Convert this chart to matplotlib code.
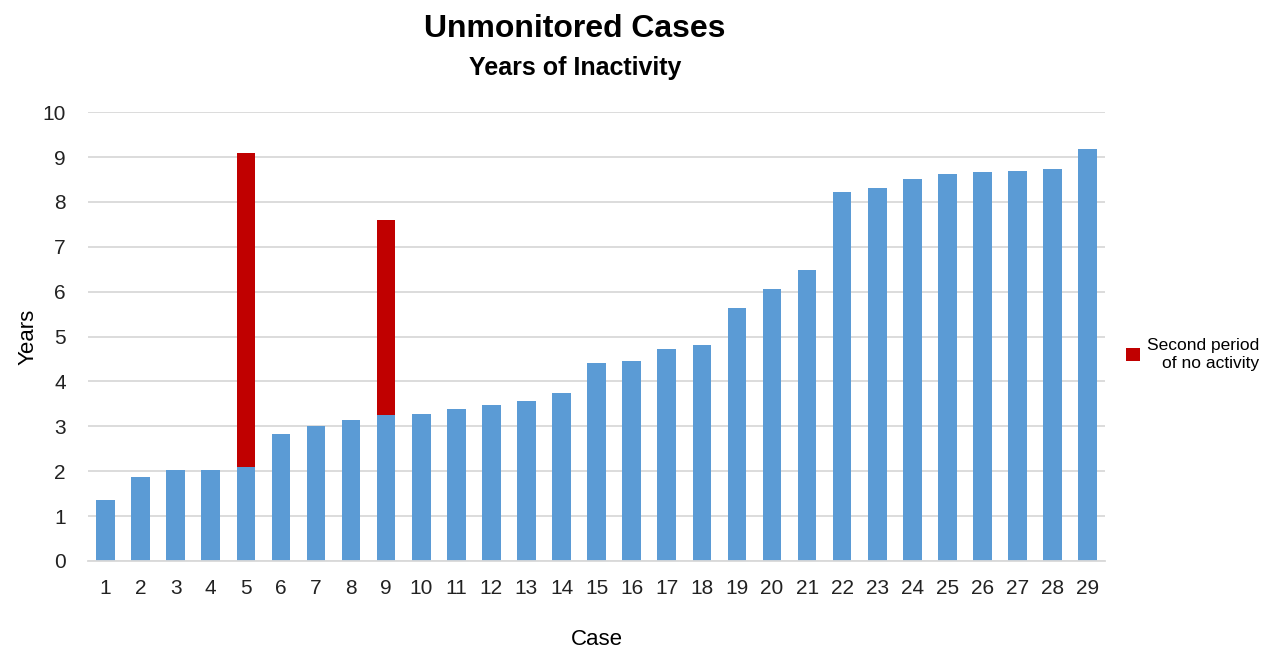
import numpy as np
import matplotlib.pyplot as plt

plt.rcParams['font.family'] = ['Liberation Sans', 'DejaVu Sans']

cases = list(range(1, 30))
first_period = [1.36, 1.88, 2.03, 2.03, 2.09, 2.83, 3.00, 3.13, 3.26, 3.28,
                3.38, 3.48, 3.57, 3.74, 4.41, 4.45, 4.72, 4.82, 5.63, 6.07,
                6.48, 8.22, 8.30, 8.50, 8.63, 8.66, 8.69, 8.73, 9.18]
# second period only on cases 5 and 9 (stacked on top)
second_period = [0, 0, 0, 0, 6.99, 0, 0, 0, 4.33, 0,
                 0, 0, 0, 0, 0, 0, 0, 0, 0, 0,
                 0, 0, 0, 0, 0, 0, 0, 0, 0]

blue = "#5B9BD5"
red = "#C00000"


def main():
    fig = plt.figure(figsize=(12.66, 6.52), dpi=100)
    ax = fig.add_axes([0.0695, 0.1396, 0.8035, 0.6884])

    x = np.array(cases)
    ax.bar(x, first_period, width=0.53, color=blue, zorder=2)
    second = ax.bar(x, second_period, width=0.53, bottom=first_period,
                    color=red, zorder=2, label="Second period\nof no activity")

    ax.set_xlim(0.5, 29.5)
    ax.set_ylim(0, 10)
    ax.set_yticks(range(0, 11))
    ax.set_xticks(x)
    ax.set_xticklabels([str(c) for c in cases])
    ax.tick_params(axis="both", length=0, labelsize=15, colors="#222222")
    ax.tick_params(axis="x", pad=13)
    ax.tick_params(axis="y", pad=16)

    ax.grid(axis="y", color="#D9D9D9", linewidth=1.3, zorder=0)
    for side in ["top", "right", "left"]:
        ax.spines[side].set_visible(False)
    ax.spines["bottom"].set_color("#D9D9D9")
    ax.spines["bottom"].set_linewidth(1.3)

    ax.set_xlabel("Case", fontsize=16, labelpad=22)
    ax.set_ylabel("Years", fontsize=16, labelpad=3)

    fig.text(0.454, 0.955, "Unmonitored Cases", ha="center", va="center",
             fontsize=23, fontweight="bold")
    fig.text(0.454, 0.895, "Years of Inactivity", ha="center", va="center",
             fontsize=18, fontweight="bold")

    leg = ax.legend(handles=[second], loc="center left",
                    bbox_to_anchor=(1.005, 0.46), frameon=False,
                    fontsize=12.5, handlelength=0.8, handleheight=0.8,
                    handletextpad=0.4)
    for t in leg.get_texts():
        t.set_multialignment("right")

    fig.savefig("out.png", dpi=100)
    plt.close(fig)


if __name__ == "__main__":
    main()
